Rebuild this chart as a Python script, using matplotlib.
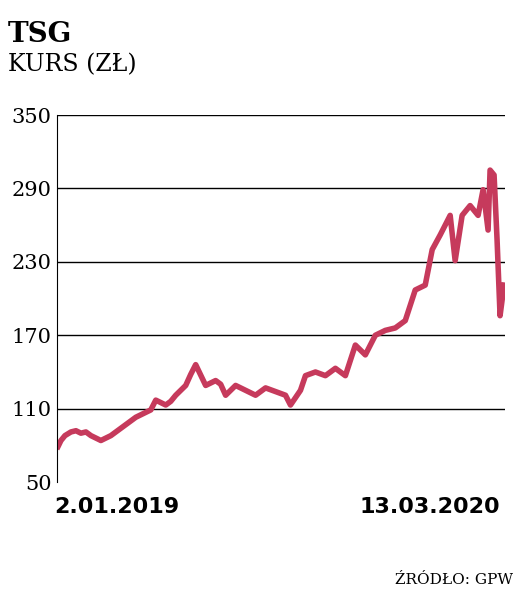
import matplotlib
matplotlib.use("Agg")
import matplotlib.pyplot as plt

days = [0, 3, 7, 13, 18, 23, 28, 33, 38, 43, 48, 53, 58, 63, 68, 73, 78, 83, 88, 93,
        98, 108, 113, 118, 123, 128, 133, 138, 148, 158, 163, 168, 178, 188, 198, 208, 218, 228,
        233, 243, 248, 258, 268, 278, 288, 298, 308, 318, 328, 338, 348, 358, 368, 375, 383, 393,
        398, 405, 413, 421, 426, 431, 433, 437, 440, 443, 447]
values = [79, 84, 88, 91, 92, 90, 91, 88, 86, 84, 86, 88, 91, 94, 97, 100, 103, 105, 107, 109,
          117, 113, 116, 121, 125, 129, 138, 146, 129, 133, 130, 121, 129, 125, 121, 127, 124, 121,
          113, 125, 137, 140, 137, 143, 137, 162, 154, 170, 174, 176, 182, 207, 211, 240, 252, 268,
          231, 268, 276, 268, 289, 256, 305, 301, 248, 186, 211]
yticks = [50, 110, 170, 230, 290, 350]
xlabels = ["2.01.2019", "13.03.2020"]

fig = plt.figure(figsize=(5.18, 5.93), dpi=100)
ax = fig.add_axes([0.11, 0.187, 0.865, 0.619])
ax.plot(days, values, color="#c63a5c", lw=4, solid_joinstyle="round")
ax.set_ylim(50, 350)
ax.set_xlim(-1, 448)
ax.set_yticks(yticks)
ax.set_yticklabels([str(v) for v in yticks], family="DejaVu Serif", fontsize=15)
for v in yticks[1:]:
    ax.axhline(v, color="black", lw=1, zorder=0)
for s in ["top", "right", "bottom"]:
    ax.spines[s].set_visible(False)
ax.tick_params(axis="y", length=0, pad=4)
ax.set_xticks([])
fig.text(0.105, 0.135, xlabels[0], fontsize=16, fontweight="bold", family="Liberation Sans Narrow", ha="left")
fig.text(0.965, 0.135, xlabels[1], fontsize=16, fontweight="bold", family="Liberation Sans Narrow", ha="right")
fig.text(0.015, 0.965, "TSG", fontsize=20, fontweight="bold", family="DejaVu Serif", va="top")
fig.text(0.015, 0.91, "KURS (ZŁ)", fontsize=17, family="DejaVu Serif", va="top")
fig.text(0.99, 0.01, "ŹRÓDŁO: GPW", fontsize=11, family="DejaVu Serif", ha="right", va="bottom")
fig.savefig("out.png", dpi=100)
